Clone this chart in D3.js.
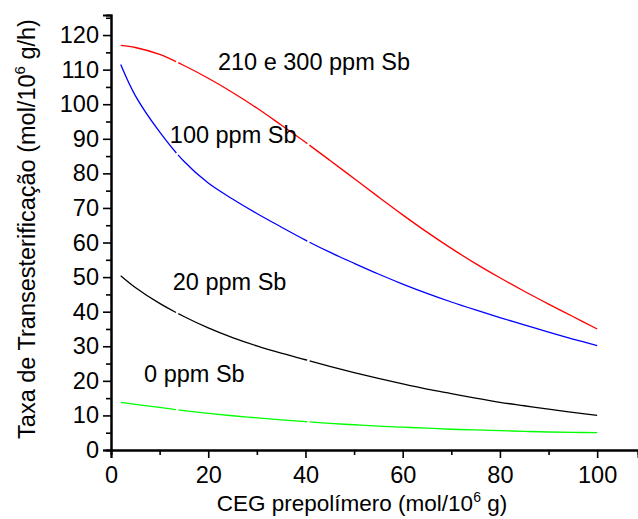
<!DOCTYPE html>
<html>
<head>
<meta charset="utf-8">
<script src="https://cdn.jsdelivr.net/npm/d3@7"></script>
<style>
  html, body { margin: 0; padding: 0; background: #fff; }
  svg text { font-family: "Liberation Sans", Arial, sans-serif; fill: #000; }
</style>
</head>
<body>
<svg id="chart" width="638" height="519"></svg>
<script>
// CEG of the prepolymer (mol/10^6 g) at which the rates are given
const ceg = [2, 5, 10, 15, 20, 25, 30, 35, 40, 45, 50, 55, 60, 65, 70, 75, 80, 85, 90, 95, 100];

// Transesterification rate (mol/10^6 g/h) for each Sb level
const rate210_300 = [117.0, 116.4, 114.4, 111.2, 107.5, 103.4, 98.9, 94.0, 89.0, 83.8, 78.5, 73.2, 68.0, 63.0, 58.3, 53.9, 49.8, 45.9, 42.2, 38.6, 35.0];
const rate100 = [111.5, 102.5, 92.0, 83.5, 77.2, 72.6, 68.4, 64.5, 60.7, 57.2, 54.0, 50.9, 48.0, 45.3, 42.8, 40.5, 38.3, 36.2, 34.1, 32.1, 30.2];
const rate20 = [50.4, 47.0, 42.4, 38.6, 35.3, 32.5, 30.1, 28.0, 26.1, 24.2, 22.4, 20.7, 19.1, 17.6, 16.3, 15.0, 13.8, 12.8, 11.8, 10.9, 10.0];
const rate0 = [13.8, 13.2, 12.3, 11.4, 10.6, 9.9, 9.3, 8.7, 8.2, 7.7, 7.3, 6.9, 6.6, 6.3, 6.0, 5.8, 5.6, 5.4, 5.2, 5.1, 5.0];

// Curve labels
const seriesNames = ["210 e 300 ppm Sb", "100 ppm Sb", "20 ppm Sb", "0 ppm Sb"];

// Axis ticks
const xMajorTicks = [0, 20, 40, 60, 80, 100];
const xMinorTicks = [10, 30, 50, 70, 90];
const yMajorTicks = [0, 10, 20, 30, 40, 50, 60, 70, 80, 90, 100, 110, 120];
const yMinorTicks = [5, 15, 25, 35, 45, 55, 65, 75, 85, 95, 105, 115, 125];

// CEG values where the plotted curves show small breaks between segments
const segmentBreaks = [13.6, 40.6];

const series = [
  { name: seriesNames[0], values: rate210_300, color: "#ff0000", label: [22.0, 109.9] },
  { name: seriesNames[1], values: rate100,     color: "#0000ff", label: [12.1, 88.8] },
  { name: seriesNames[2], values: rate20,      color: "#000000", label: [12.7, 46.3] },
  { name: seriesNames[3], values: rate0,       color: "#00ff00", label: [6.8, 19.75] }
];

const svg = d3.select("#chart");

const x = d3.scaleLinear().domain([0, 108.4]).range([111, 638]);
const y = d3.scaleLinear().domain([0, 125.8]).range([450, 15]);

const fontSize = 23.5;

// Curves
const line = d3.line()
  .x((d, i) => x(ceg[i]))
  .y(d => y(d))
  .curve(d3.curveCatmullRom.alpha(0.5));

// Path length at which the curve reaches a given screen x
function lengthAtX(node, px) {
  let lo = 0, hi = node.getTotalLength();
  for (let k = 0; k < 40; k++) {
    const mid = (lo + hi) / 2;
    if (node.getPointAtLength(mid).x < px) lo = mid; else hi = mid;
  }
  return (lo + hi) / 2;
}

series.forEach(s => {
  const path = svg.append("path")
    .datum(s.values)
    .attr("d", line)
    .attr("fill", "none")
    .attr("stroke", s.color)
    .attr("stroke-width", 1.3);

  const node = path.node();
  const total = node.getTotalLength();
  const gap = 2.5;
  const cuts = segmentBreaks.map(b => lengthAtX(node, x(b)));
  const dash = [];
  let prev = 0;
  cuts.forEach(c => {
    dash.push(Math.max(0, c - gap / 2 - prev), gap);
    prev = c + gap / 2;
  });
  dash.push(total - prev + 10, 0);
  path.attr("stroke-dasharray", dash.join(" "));
});

// Y axis
const yAxis = d3.axisLeft(y)
  .tickValues(yMajorTicks)
  .tickSize(8)
  .tickPadding(4)
  .tickFormat(d3.format("d"));
const yAxisMinor = d3.axisLeft(y)
  .tickValues(yMinorTicks)
  .tickSize(5)
  .tickFormat("");

svg.append("g").attr("transform", `translate(${x(0)},0)`).call(yAxis);
svg.append("g").attr("transform", `translate(${x(0)},0)`).call(yAxisMinor);

// X axis
const xAxis = d3.axisBottom(x)
  .tickValues(xMajorTicks)
  .tickSize(8)
  .tickPadding(8)
  .tickFormat(d3.format("d"));
const xAxisMinor = d3.axisBottom(x)
  .tickValues(xMinorTicks)
  .tickSize(5)
  .tickFormat("");

svg.append("g").attr("transform", `translate(0,${y(0)})`).call(xAxis);
svg.append("g").attr("transform", `translate(0,${y(0)})`).call(xAxisMinor);

svg.selectAll(".domain").attr("stroke", "#000").attr("stroke-width", 2);
svg.selectAll(".tick line").attr("stroke", "#000").attr("stroke-width", 1.6);
svg.selectAll(".tick text")
  .attr("font-size", fontSize)
  .attr("font-family", "'Liberation Sans', Arial, sans-serif")
  .attr("fill", "#000");

// Series labels
series.forEach(s => {
  svg.append("text")
    .attr("x", x(s.label[0]))
    .attr("y", y(s.label[1]))
    .attr("font-size", fontSize)
    .text(s.name);
});

// Axis titles
const xTitle = svg.append("text")
  .attr("x", 362)
  .attr("y", 511)
  .attr("text-anchor", "middle")
  .attr("font-size", 22.5);
xTitle.append("tspan").text("CEG prepolímero (mol/10");
xTitle.append("tspan").attr("font-size", 14).attr("dy", -9).text("6");
xTitle.append("tspan").attr("dy", 9).text(" g)");

const yTitle = svg.append("text")
  .attr("transform", "translate(35,229) rotate(-90)")
  .attr("text-anchor", "middle")
  .attr("font-size", fontSize);
yTitle.append("tspan").text("Taxa de Transesterificação (mol/10");
yTitle.append("tspan").attr("font-size", 15).attr("dy", -10).text("6");
yTitle.append("tspan").attr("dy", 10).text(" g/h)");
</script>
</body>
</html>
